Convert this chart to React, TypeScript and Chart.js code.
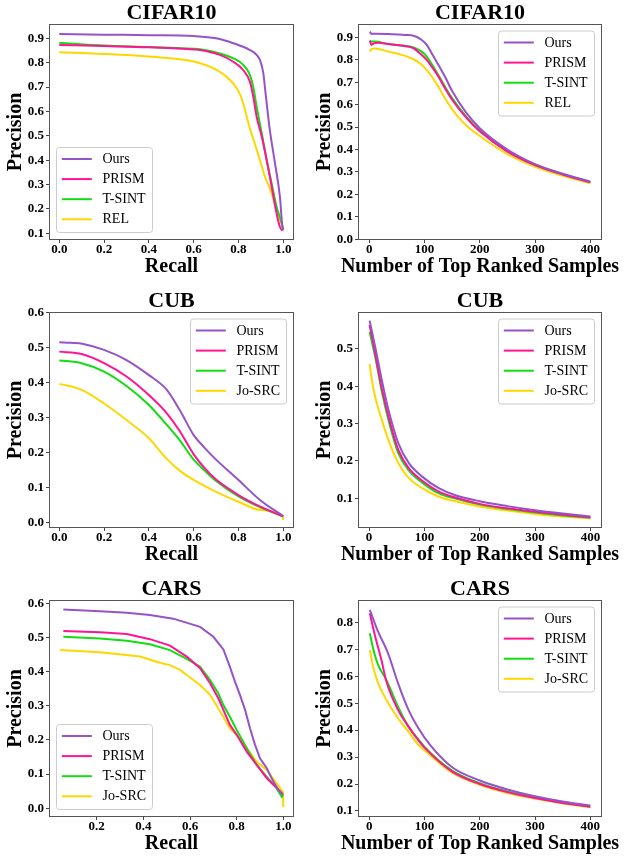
import React, { useEffect, useRef } from 'react';
import { Chart, registerables } from 'chart.js';

Chart.register(...registerables);

// ---------------- data ----------------
const CIFAR_NAMES = ['Ours', 'PRISM', 'T-SINT', 'REL'];
const FG_NAMES = ['Ours', 'PRISM', 'T-SINT', 'Jo-SRC'];

const RECALL_TICKS = [0, 0.2, 0.4, 0.6, 0.8, 1.0];
const RECALL_TICKS_CARS = [0.2, 0.4, 0.6, 0.8, 1.0];
const TOPK_TICKS = [0, 100, 200, 300, 400];
const CIFAR_PR_YTICKS = [0.1, 0.2, 0.3, 0.4, 0.5, 0.6, 0.7, 0.8, 0.9];
const CIFAR_TOPK_YTICKS = [0.0, 0.1, 0.2, 0.3, 0.4, 0.5, 0.6, 0.7, 0.8, 0.9];
const CUB_PR_YTICKS = [0.0, 0.1, 0.2, 0.3, 0.4, 0.5, 0.6];
const CUB_TOPK_YTICKS = [0.1, 0.2, 0.3, 0.4, 0.5];
const CARS_PR_YTICKS = [0.0, 0.1, 0.2, 0.3, 0.4, 0.5, 0.6];
const CARS_TOPK_YTICKS = [0.1, 0.2, 0.3, 0.4, 0.5, 0.6, 0.7, 0.8];

// CIFAR10 precision-recall
const CIFAR_PR_OURS = [[0, 0.918], [0.2, 0.915], [0.4, 0.913], [0.6, 0.909], [0.7, 0.9], [0.777, 0.88], [0.851, 0.852], [0.881, 0.832], [0.896, 0.811], [0.911, 0.757], [0.918, 0.7], [0.926, 0.634], [0.94, 0.524], [0.963, 0.388], [0.985, 0.251], [0.996, 0.128], [1.0, 0.114]];
const CIFAR_PR_PRISM = [[0, 0.873], [0.2, 0.868], [0.4, 0.863], [0.6, 0.854], [0.628, 0.852], [0.717, 0.832], [0.777, 0.804], [0.821, 0.77], [0.851, 0.722], [0.866, 0.661], [0.881, 0.579], [0.904, 0.497], [0.926, 0.401], [0.948, 0.292], [0.97, 0.183], [0.982, 0.135], [0.993, 0.114], [1.0, 0.12]];
const CIFAR_PR_TSINT = [[0, 0.882], [0.2, 0.87], [0.4, 0.864], [0.6, 0.857], [0.628, 0.855], [0.717, 0.838], [0.777, 0.818], [0.821, 0.791], [0.851, 0.75], [0.866, 0.7], [0.881, 0.62], [0.904, 0.511], [0.926, 0.4], [0.948, 0.306], [0.97, 0.21], [0.993, 0.142], [1.0, 0.115]];
const CIFAR_PR_REL = [[0, 0.843], [0.2, 0.836], [0.4, 0.825], [0.6, 0.805], [0.703, 0.77], [0.762, 0.729], [0.792, 0.695], [0.814, 0.654], [0.829, 0.606], [0.851, 0.53], [0.873, 0.468], [0.896, 0.4], [0.918, 0.333], [0.948, 0.265], [0.97, 0.196], [0.993, 0.135], [1.0, 0.11]];

// CIFAR10 precision@K
const CIFAR_K_OURS = [[1, 0.925], [4, 0.915], [10, 0.916], [34, 0.915], [65, 0.91], [80, 0.907], [95, 0.888], [104, 0.866], [113, 0.829], [125, 0.777], [137, 0.725], [149, 0.665], [175, 0.565], [200, 0.495], [250, 0.4], [300, 0.335], [350, 0.292], [400, 0.257]];
const CIFAR_K_PRISM = [[1, 0.885], [4, 0.866], [8, 0.873], [16, 0.876], [34, 0.87], [65, 0.861], [80, 0.851], [95, 0.821], [104, 0.799], [113, 0.769], [125, 0.725], [137, 0.673], [149, 0.625], [175, 0.543], [200, 0.481], [250, 0.391], [300, 0.331], [350, 0.289], [400, 0.254]];
const CIFAR_K_TSINT = [[1, 0.885], [4, 0.881], [10, 0.881], [34, 0.87], [65, 0.861], [80, 0.855], [95, 0.836], [104, 0.814], [113, 0.781], [125, 0.732], [137, 0.68], [149, 0.632], [175, 0.548], [200, 0.484], [250, 0.393], [300, 0.332], [350, 0.29], [400, 0.255]];
const CIFAR_K_REL = [[1, 0.836], [4, 0.847], [10, 0.85], [34, 0.836], [65, 0.817], [80, 0.802], [95, 0.777], [104, 0.754], [113, 0.725], [125, 0.68], [137, 0.628], [149, 0.583], [160, 0.548], [175, 0.508], [200, 0.46], [250, 0.379], [300, 0.323], [350, 0.283], [400, 0.25]];

// CUB precision-recall
const CUB_PR_OURS = [[0, 0.515], [0.05, 0.513], [0.107, 0.51], [0.2, 0.493], [0.3, 0.464], [0.4, 0.421], [0.48, 0.379], [0.539, 0.32], [0.6, 0.25], [0.65, 0.213], [0.7, 0.18], [0.8, 0.122], [0.896, 0.065], [1.0, 0.019]];
const CUB_PR_PRISM = [[0, 0.488], [0.1, 0.481], [0.2, 0.455], [0.3, 0.417], [0.4, 0.364], [0.48, 0.312], [0.539, 0.26], [0.6, 0.195], [0.65, 0.155], [0.7, 0.123], [0.8, 0.079], [0.9, 0.045], [1.0, 0.018]];
const CUB_PR_TSINT = [[0, 0.463], [0.1, 0.455], [0.2, 0.431], [0.3, 0.39], [0.4, 0.336], [0.48, 0.279], [0.539, 0.234], [0.6, 0.18], [0.65, 0.148], [0.7, 0.119], [0.8, 0.075], [0.9, 0.043], [1.0, 0.018]];
const CUB_PR_JOSRC = [[0, 0.396], [0.1, 0.379], [0.2, 0.34], [0.3, 0.293], [0.4, 0.241], [0.48, 0.182], [0.539, 0.148], [0.6, 0.122], [0.7, 0.088], [0.8, 0.06], [0.9, 0.036], [0.999, 0.016], [1.0, 0.008]];

// CUB precision@K
const CUB_K_OURS = [[1, 0.576], [11, 0.506], [23, 0.417], [35, 0.337], [53, 0.247], [72, 0.194], [96, 0.158], [126, 0.127], [156, 0.108], [200, 0.092], [250, 0.079], [300, 0.068], [350, 0.059], [400, 0.051]];
const CUB_K_PRISM = [[1, 0.564], [11, 0.488], [23, 0.395], [35, 0.319], [53, 0.229], [72, 0.18], [96, 0.147], [126, 0.118], [156, 0.102], [200, 0.085], [250, 0.073], [300, 0.064], [350, 0.056], [400, 0.049]];
const CUB_K_TSINT = [[1, 0.546], [11, 0.479], [23, 0.386], [35, 0.31], [53, 0.22], [72, 0.174], [96, 0.142], [126, 0.113], [156, 0.099], [200, 0.083], [250, 0.071], [300, 0.062], [350, 0.054], [400, 0.048]];
const CUB_K_JOSRC = [[1, 0.46], [5, 0.417], [11, 0.372], [23, 0.31], [35, 0.256], [53, 0.194], [72, 0.154], [96, 0.127], [126, 0.104], [156, 0.092], [200, 0.078], [250, 0.067], [300, 0.058], [350, 0.051], [400, 0.046]];

// CARS precision-recall
const CARS_PR_OURS = [[0.057, 0.582], [0.214, 0.577], [0.329, 0.572], [0.428, 0.566], [0.528, 0.555], [0.643, 0.531], [0.7, 0.502], [0.743, 0.465], [0.771, 0.414], [0.793, 0.37], [0.814, 0.332], [0.836, 0.288], [0.857, 0.234], [0.879, 0.185], [0.9, 0.146], [0.929, 0.117], [0.957, 0.078], [0.979, 0.054], [0.998, 0.039]];
const CARS_PR_PRISM = [[0.057, 0.519], [0.214, 0.515], [0.329, 0.51], [0.428, 0.495], [0.514, 0.476], [0.586, 0.444], [0.643, 0.41], [0.686, 0.366], [0.721, 0.322], [0.743, 0.288], [0.771, 0.244], [0.8, 0.215], [0.843, 0.166], [0.886, 0.127], [0.929, 0.088], [0.971, 0.06], [0.998, 0.041]];
const CARS_PR_TSINT = [[0.057, 0.502], [0.214, 0.497], [0.329, 0.49], [0.428, 0.48], [0.514, 0.463], [0.586, 0.437], [0.643, 0.414], [0.686, 0.375], [0.721, 0.337], [0.743, 0.302], [0.771, 0.268], [0.8, 0.229], [0.843, 0.176], [0.886, 0.127], [0.929, 0.092], [0.971, 0.059], [0.993, 0.034], [1.0, 0.04]];
const CARS_PR_JOSRC = [[0.043, 0.463], [0.214, 0.457], [0.386, 0.444], [0.471, 0.426], [0.514, 0.419], [0.557, 0.405], [0.586, 0.39], [0.643, 0.361], [0.686, 0.332], [0.729, 0.283], [0.771, 0.234], [0.8, 0.215], [0.843, 0.176], [0.886, 0.136], [0.929, 0.112], [0.971, 0.073], [0.998, 0.049], [1.0, 0.003]];

// CARS precision@K
const CARS_K_OURS = [[1, 0.846], [16, 0.765], [34, 0.685], [52, 0.574], [71, 0.475], [89, 0.407], [110, 0.345], [150, 0.262], [200, 0.213], [250, 0.18], [300, 0.155], [350, 0.135], [400, 0.12]];
const CARS_K_PRISM = [[1, 0.833], [10, 0.753], [22, 0.66], [31, 0.58], [52, 0.475], [71, 0.413], [89, 0.362], [100, 0.335], [150, 0.246], [200, 0.2], [250, 0.17], [300, 0.148], [350, 0.13], [400, 0.116]];
const CARS_K_TSINT = [[1, 0.759], [7, 0.703], [16, 0.642], [31, 0.586], [52, 0.487], [71, 0.413], [89, 0.365], [100, 0.338], [150, 0.25], [200, 0.203], [250, 0.172], [300, 0.15], [350, 0.131], [400, 0.117]];
const CARS_K_JOSRC = [[1, 0.697], [7, 0.635], [16, 0.574], [31, 0.512], [52, 0.444], [71, 0.394], [89, 0.345], [100, 0.325], [150, 0.242], [200, 0.197], [250, 0.167], [300, 0.146], [350, 0.128], [400, 0.114]];

// ---------------- styles / layout ----------------
const FONT = '"Liberation Serif", "Times New Roman", Times, serif';
const COLORS = ['#9553c9', '#ff1493', '#11dd11', '#ffd700'];
const TITLE_H = 24;
const XAXIS_H = 40;
const COL_W = 312;

type Panel = {
  title: string;
  xLabel: string;
  names: string[];
  series: number[][][];
  xTicks: number[];
  yTicks: number[];
  xDigits: number;
  legend: 'lower left' | 'upper right';
  smooth: boolean;
  frame: { l: number; t: number; r: number; b: number };
  col: number;
  xRange: [number, number];
  yRange: [number, number];
  yTitleX: number;
  xTitleDy: number;
};

const PANELS: Panel[] = [
  { title: 'CIFAR10', xLabel: 'Recall', names: CIFAR_NAMES, series: [CIFAR_PR_OURS, CIFAR_PR_PRISM, CIFAR_PR_TSINT, CIFAR_PR_REL], xTicks: RECALL_TICKS, yTicks: CIFAR_PR_YTICKS, xDigits: 1, legend: 'lower left', smooth: true, frame: { l: 49, t: 24, r: 294, b: 240 }, col: 0, xRange: [-0.046, 1.048], yRange: [0.0725, 0.9587], yTitleX: 15.8, xTitleDy: 26.5 },
  { title: 'CIFAR10', xLabel: 'Number of Top Ranked Samples', names: CIFAR_NAMES, series: [CIFAR_K_OURS, CIFAR_K_PRISM, CIFAR_K_TSINT, CIFAR_K_REL], xTicks: TOPK_TICKS, yTicks: CIFAR_TOPK_YTICKS, xDigits: 0, legend: 'upper right', smooth: true, frame: { l: 358, t: 24, r: 602, b: 240 }, col: 312, xRange: [-20.4, 421.2], yRange: [-0.003, 0.959], yTitleX: 13.3, xTitleDy: 26.5 },
  { title: 'CUB', xLabel: 'Recall', names: FG_NAMES, series: [CUB_PR_OURS, CUB_PR_PRISM, CUB_PR_TSINT, CUB_PR_JOSRC], xTicks: RECALL_TICKS, yTicks: CUB_PR_YTICKS, xDigits: 1, legend: 'upper right', smooth: true, frame: { l: 49, t: 312, r: 294, b: 528 }, col: 0, xRange: [-0.046, 1.048], yRange: [-0.015, 0.601], yTitleX: 15.8, xTitleDy: 26.5 },
  { title: 'CUB', xLabel: 'Number of Top Ranked Samples', names: FG_NAMES, series: [CUB_K_OURS, CUB_K_PRISM, CUB_K_TSINT, CUB_K_JOSRC], xTicks: TOPK_TICKS, yTicks: CUB_TOPK_YTICKS, xDigits: 0, legend: 'upper right', smooth: true, frame: { l: 358, t: 312, r: 602, b: 528 }, col: 312, xRange: [-20, 421], yRange: [0.0204, 0.599], yTitleX: 13.3, xTitleDy: 26.5 },
  { title: 'CARS', xLabel: 'Recall', names: FG_NAMES, series: [CARS_PR_OURS, CARS_PR_PRISM, CARS_PR_TSINT, CARS_PR_JOSRC], xTicks: RECALL_TICKS_CARS, yTicks: CARS_PR_YTICKS, xDigits: 1, legend: 'lower left', smooth: false, frame: { l: 49, t: 600, r: 294, b: 817 }, col: 0, xRange: [-0.0045, 1.0457], yRange: [-0.0255, 0.6096], yTitleX: 15.8, xTitleDy: 27 },
  { title: 'CARS', xLabel: 'Number of Top Ranked Samples', names: FG_NAMES, series: [CARS_K_OURS, CARS_K_PRISM, CARS_K_TSINT, CARS_K_JOSRC], xTicks: TOPK_TICKS, yTicks: CARS_TOPK_YTICKS, xDigits: 0, legend: 'upper right', smooth: true, frame: { l: 358, t: 600, r: 602, b: 817 }, col: 312, xRange: [-20.4, 421.2], yRange: [0.0777, 0.8826], yTitleX: 13.3, xTitleDy: 27 },
];

// ---------------- plugins ----------------
const framePlugin = {
  id: 'mplFrame',
  afterDatasetsDraw(chart: any) {
    const { ctx, chartArea: a } = chart;
    ctx.save();
    ctx.strokeStyle = '#555';
    ctx.lineWidth = 1;
    ctx.strokeRect(Math.round(a.left) + 0.5, Math.round(a.top) + 0.5, Math.round(a.right - a.left) - 1, Math.round(a.bottom - a.top) - 1);
    ctx.restore();
  },
};

// x-axis label drawn without width clamp (matplotlib lets it overhang the axes)
const xLabelPlugin = {
  id: 'mplXLabel',
  afterDraw(chart: any, _args: any, opts: any) {
    const { ctx, chartArea: a } = chart;
    ctx.save();
    ctx.fillStyle = '#000';
    ctx.font = 'bold 20px ' + FONT;
    ctx.textAlign = 'center';
    ctx.textBaseline = 'middle';
    ctx.fillText(opts.text, (a.left + a.right) / 2, a.bottom + opts.dy);
    ctx.restore();
  },
};

const legendPlugin = {
  id: 'mplLegend',
  afterDatasetsDraw(chart: any, _args: any, opts: any) {
    const { ctx, chartArea: a } = chart;
    const w = 96;
    const h = 85;
    const x = opts.corner === 'lower left' ? a.left + 7.5 : a.right - 7.5 - w;
    const y = opts.corner === 'lower left' ? a.bottom - 7.5 - h : a.top + 7;
    ctx.save();
    ctx.beginPath();
    if ((ctx as any).roundRect) (ctx as any).roundRect(x, y, w, h, 3);
    else ctx.rect(x, y, w, h);
    ctx.fillStyle = 'rgba(255,255,255,0.8)';
    ctx.fill();
    ctx.strokeStyle = '#cccccc';
    ctx.lineWidth = 1;
    ctx.stroke();
    chart.data.datasets.forEach((ds: any, i: number) => {
      const cy = y + 11.5 + i * 20.1;
      ctx.beginPath();
      ctx.strokeStyle = ds.borderColor;
      ctx.lineWidth = 2;
      ctx.moveTo(x + 5.3, cy);
      ctx.lineTo(x + 35.3, cy);
      ctx.stroke();
      ctx.fillStyle = '#000';
      ctx.font = '14px ' + FONT;
      ctx.textBaseline = 'middle';
      ctx.textAlign = 'left';
      ctx.fillText(ds.label, x + 46, cy + 0.5);
    });
    ctx.restore();
  },
};

// ---------------- component ----------------
function PanelChart({ p }: { p: Panel }) {
  const ref = useRef<HTMLCanvasElement>(null);
  const yW = p.frame.l - p.col;
  const padRight = p.col + COL_W - p.frame.r;
  const top = p.frame.t - TITLE_H;
  const height = TITLE_H + (p.frame.b - p.frame.t) + XAXIS_H;

  useEffect(() => {
    if (!ref.current) return;
    const tickFont = { family: FONT, size: 13, weight: 'bold' as const, lineHeight: 1 };
    const titleFont = { family: FONT, size: 20, weight: 'bold' as const, lineHeight: 1 };
    const chart = new Chart(ref.current, {
      type: 'line',
      data: {
        datasets: p.series.map((s, i) => ({
          label: p.names[i],
          data: s.map(([x, y]) => ({ x, y })),
          borderColor: COLORS[i],
          backgroundColor: COLORS[i],
          borderWidth: 2,
          pointRadius: 0,
          fill: false,
          cubicInterpolationMode: p.smooth ? ('monotone' as const) : ('default' as const),
          tension: 0,
        })),
      },
      options: {
        animation: false,
        responsive: false,
        maintainAspectRatio: false,
        events: [],
        layout: { padding: { left: 0, top: 0, bottom: 0, right: padRight } },
        plugins: {
          legend: { display: false },
          tooltip: { enabled: false },
          title: {
            display: true,
            text: p.title,
            fullSize: false,
            color: '#000',
            font: { family: FONT, size: 22, weight: 'bold', lineHeight: 1 },
            padding: { top: 2, bottom: 0 },
          },
          mplLegend: { corner: p.legend },
          mplXLabel: { text: p.xLabel, dy: p.xTitleDy },
        } as any,
        scales: {
          x: {
            type: 'linear',
            min: p.xRange[0],
            max: p.xRange[1],
            afterBuildTicks: (scale: any) => {
              scale.ticks = p.xTicks.map((v) => ({ value: v }));
            },
            afterFit: (scale: any) => {
              scale.height = XAXIS_H;
            },
            ticks: {
              color: '#000',
              font: tickFont,
              padding: 0,
              maxRotation: 0,
              autoSkip: false,
              callback: (v: any) => Number(v).toFixed(p.xDigits),
            },
            grid: { display: true, drawOnChartArea: false, drawTicks: true, tickLength: 3, tickColor: '#444', tickWidth: 1 },
            border: { display: false },
            title: { display: false },
          },
          y: {
            type: 'linear',
            min: p.yRange[0],
            max: p.yRange[1],
            afterBuildTicks: (scale: any) => {
              scale.ticks = p.yTicks.map((v) => ({ value: v }));
            },
            afterFit: (scale: any) => {
              scale.width = yW;
            },
            ticks: {
              color: '#000',
              font: tickFont,
              padding: 2,
              autoSkip: false,
              callback: (v: any) => Number(v).toFixed(1),
            },
            grid: { display: true, drawOnChartArea: false, drawTicks: true, tickLength: 3, tickColor: '#444', tickWidth: 1 },
            border: { display: false },
            title: { display: true, text: 'Precision', color: '#000', font: titleFont, padding: { top: p.yTitleX - 10, bottom: 0 } },
          },
        },
      },
      plugins: [framePlugin, legendPlugin, xLabelPlugin],
    } as any);
    return () => chart.destroy();
  }, []);

  return (
    <canvas
      ref={ref}
      width={COL_W}
      height={height}
      style={{ position: 'absolute', left: p.col, top, width: COL_W, height }}
    />
  );
}

export default function App() {
  return (
    <div style={{ position: 'absolute', left: 0, top: 0, width: 624, height: 857, background: '#fff', overflow: 'hidden' }}>
      {PANELS.map((p, i) => (
        <PanelChart key={i} p={p} />
      ))}
    </div>
  );
}
